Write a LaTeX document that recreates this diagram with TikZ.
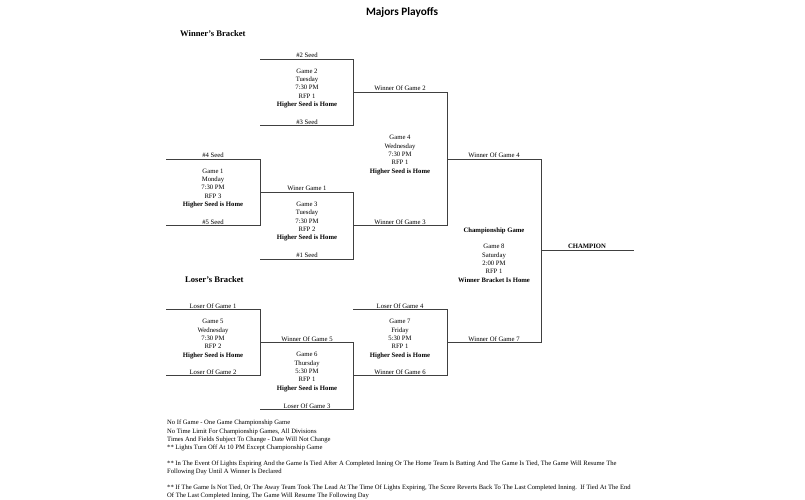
\documentclass[tikz,border=0pt]{standalone}
\usepackage{fontspec}
\setmainfont{Liberation Serif}
\newfontfamily\titlefont{Carlito}
\begin{document}
\begin{tikzpicture}[x=1pt,y=-1pt,
  brk/.style={draw=black!75, line width=0.8pt},
  lbl/.style={inner sep=0pt, font=\fontsize{6.7}{8.35}\selectfont},
  game/.style={inner sep=0pt, align=center, font=\fontsize{6.7}{8.35}\selectfont},
  note/.style={inner sep=0pt, anchor=west, font=\fontsize{6.6}{8.3}\selectfont},
  head/.style={inner sep=0pt, anchor=west, font=\fontsize{8.6}{9}\selectfont\bfseries}]
\useasboundingbox (0,0) rectangle (805,500);

% title
\node[inner sep=0pt, font=\titlefont\fontsize{11.3}{13}\selectfont\bfseries] (title) at (402,12) {Majors Playoffs};
\node[head] (wb) at (180,34) {Winner's Bracket};
\node[head] (lb) at (185,280) {Loser's Bracket};

% coordinates
\coordinate (g2tl) at (260,59);   \coordinate (g2tr) at (353,59);
\coordinate (g2bl) at (260,125.7);\coordinate (g2br) at (353,125.7);
\coordinate (g2m)  at (353,92.3);
\coordinate (g1tl) at (166,159);  \coordinate (g1tr) at (260,159);
\coordinate (g1bl) at (166,225.7);\coordinate (g1br) at (260,225.7);
\coordinate (g1m)  at (260,192.3);
\coordinate (g3tr) at (353,192.3);
\coordinate (g3bl) at (260,259);  \coordinate (g3br) at (353,259);
\coordinate (g3m)  at (353,225.7);
\coordinate (g4tr) at (447,92.3); \coordinate (g4br) at (447,225.7);
\coordinate (g4m)  at (447,159);
\coordinate (g8tr) at (541,159);  \coordinate (g8br) at (541,342.3);
\coordinate (g8m)  at (541,250.7);
\coordinate (champ) at (634,250.7);
\coordinate (g5tl) at (166,309);  \coordinate (g5tr) at (260,309);
\coordinate (g5bl) at (166,375.7);\coordinate (g5br) at (260,375.7);
\coordinate (g5m)  at (260,342.3);
\coordinate (g6tr) at (353,342.3);
\coordinate (g6bl) at (260,409);  \coordinate (g6br) at (353,409);
\coordinate (g6m)  at (353,375.7);
\coordinate (g7tl) at (353,309);  \coordinate (g7tr) at (447,309);
\coordinate (g7br) at (447,375.7);
\coordinate (g7m)  at (447,342.3);

% bracket lines
\draw[brk] (g2tl) -- (g2tr) -- (g2br) -- (g2bl);
\draw[brk] (g1tl) -- (g1tr) -- (g1br) -- (g1bl);
\draw[brk] (g1m) -- (g3tr) -- (g3br) -- (g3bl);
\draw[brk] (g2m) -- (g4tr) -- (g4br) -- (g3m);
\draw[brk] (g4m) -- (g8tr) -- (g8br) -- (g7m);
\draw[brk] (g8m) -- (champ);
\draw[brk] (g5tl) -- (g5tr) -- (g5br) -- (g5bl);
\draw[brk] (g5m) -- (g6tr) -- (g6br) -- (g6bl);
\draw[brk] (g7tl) -- (g7tr) -- (g7br) -- (g6m);

% labels
\node[lbl] (l2s) at (307,55) {\#2 Seed};
\node[lbl] (l3s) at (307,122) {\#3 Seed};
\node[lbl] (lw2) at (400,88.5) {Winner Of Game 2};
\node[lbl] (l4s) at (213,155.3) {\#4 Seed};
\node[lbl] (l5s) at (213,222) {\#5 Seed};
\node[lbl] (lw1) at (307,188.5) {Winer Game 1};
\node[lbl] (l1s) at (307,255.3) {\#1 Seed};
\node[lbl] (lw3) at (400,222) {Winner Of Game 3};
\node[lbl] (lw4) at (494,155.3) {Winner Of Game 4};
\node[lbl, font=\fontsize{6.7}{8}\selectfont\bfseries] (lch) at (587,246.5) {CHAMPION};
\node[lbl] (ll1) at (213,305.7) {Loser Of Game 1};
\node[lbl] (ll2) at (213,372) {Loser Of Game 2};
\node[lbl] (lw5) at (307,338.7) {Winner Of Game 5};
\node[lbl] (ll3) at (307,405.7) {Loser Of Game 3};
\node[lbl] (ll4) at (400,305.7) {Loser Of Game 4};
\node[lbl] (lw6) at (400,372) {Winner Of Game 6};
\node[lbl] (lw7) at (494,338.7) {Winner Of Game 7};

% game texts
\node[game] (t2) at (307,88.3) {Game 2\\Tuesday\\7:30 PM\\RFP 1\\\textbf{Higher Seed is Home}};
\node[game] (t1) at (213,188.5) {Game 1\\Monday\\7:30 PM\\RFP 3\\\textbf{Higher Seed is Home}};
\node[game] (t3) at (307,221.7) {Game 3\\Tuesday\\7:30 PM\\RFP 2\\\textbf{Higher Seed is Home}};
\node[game] (t4) at (400,155) {Game 4\\Wednesday\\7:30 PM\\RFP 1\\\textbf{Higher Seed is Home}};
\node[game] (t8) at (494,255) {\textbf{Championship Game}\\\mbox{}\\Game 8\\Saturday\\2:00 PM\\RFP 1\\\textbf{Winner Bracket Is Home}};
\node[game] (t5) at (213,339) {Game 5\\Wednesday\\7:30 PM\\RFP 2\\\textbf{Higher Seed is Home}};
\node[game] (t6) at (307,372) {Game 6\\Thursday\\5:30 PM\\RFP 1\\\textbf{Higher Seed is Home}};
\node[game] (t7) at (400,339) {Game 7\\Friday\\5:30 PM\\RFP 1\\\textbf{Higher Seed is Home}};

% notes
\node[note] (n1) at (167,423.3) {No If Game - One Game Championship Game};
\node[note] (n2) at (167,431.7) {No Time Limit For Championship Games, All Divisions};
\node[note] (n3) at (167,440) {Times And Fields Subject To Change - Date Will Not Change};
\node[note] (n4) at (167,448.3) {** Lights Turn Off At 10 PM Except Championship Game};
\node[note] (n5) at (167,463.7) {** In The Event Of Lights Expiring And the Game Is Tied After A Completed Inning Or The Home Team Is Batting And The Game Is Tied, The Game Will Resume The};
\node[note] (n6) at (167,472) {Following Day Until A Winner Is Declared};
\node[note] (n7) at (167,487.7) {** If The Game Is Not Tied, Or The Away Team Took The Lead At The Time Of Lights Expiring, The Score Reverts Back To The Last Completed Inning.\ \ If Tied At The End};
\node[note] (n8) at (167,496) {Of The Last Completed Inning, The Game Will Resume The Following Day};
\end{tikzpicture}
\end{document}
